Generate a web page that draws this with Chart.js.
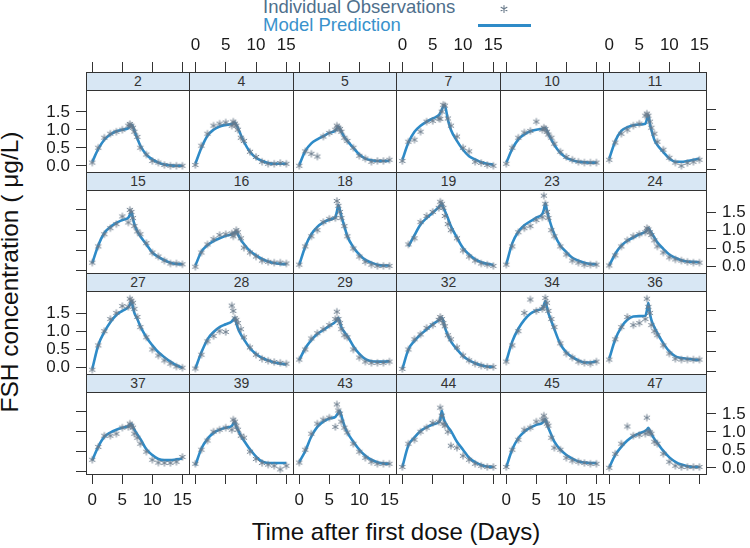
<!DOCTYPE html>
<html>
<head>
<meta charset="utf-8">
<script src="https://cdn.jsdelivr.net/npm/chart.js@4.4.1/dist/chart.umd.min.js"></script>
<style>
  body { margin: 0; background: #fff; }
  #wrap { position: relative; width: 750px; height: 548px; overflow: hidden; font-family: "Liberation Sans", Arial, sans-serif; }
  #wrap canvas { position: absolute; }
  .panel { position: absolute; box-sizing: border-box; border: 1px solid #333; }
  .strip { position: absolute; box-sizing: border-box; border: 1px solid #333; background: #d8e7f4;
           text-align: center; font-size: 14px; color: #333; }
  .txt { position: absolute; white-space: nowrap; }
</style>
</head>
<body>
<div id="wrap">
  <div class="txt" style="left:263px;top:-2px;font-size:18.5px;line-height:18.5px;color:#4e6f8c">Individual Observations</div>
  <div class="txt" style="left:263px;top:16px;font-size:18.5px;line-height:18.5px;color:#3a92cc">Model Prediction</div>
  <canvas id="legendMarks" width="80" height="34" style="left:470px;top:0px"></canvas>
  <div class="txt" style="left:196px;top:517px;width:400px;text-align:center;font-size:24px;line-height:30px;color:#111">Time after first dose (Days)</div>
  <div class="txt" style="left:-190px;top:257px;width:400px;text-align:center;font-size:24.5px;line-height:30px;color:#111;transform:rotate(-90deg)">FSH concentration ( μg/L)</div>
</div>
<script>
// observation / prediction times (days)
const T = [0, 1, 2, 3, 4, 5, 6, 6.25, 6.5, 6.75, 7, 7.5, 8, 9, 10, 11, 12, 13, 14, 15];
const X_TICKS = [0, 5, 10, 15];
const Y_TICKS = [0, 0.5, 1.0, 1.5];

// FSH (ug/L), one pair per subject
const pred2 = [0.2,0.52,0.75,0.88,0.96,1.0,1.04,1.08,1.12,1.08,0.98,0.78,0.6,0.38,0.26,0.18,0.13,0.11,0.1,0.1];
const obs2  = [0.18,0.55,0.8,0.9,0.95,1.0,1.1,1.14,1.1,1.05,0.95,0.82,0.55,0.38,0.22,0.18,0.12,0.1,0.1,0.1];
const pred4 = [0.15,0.55,0.85,1.0,1.08,1.12,1.14,1.16,1.18,1.12,1.05,0.87,0.7,0.45,0.3,0.22,0.17,0.15,0.15,0.15];
const obs4  = [0.12,0.6,0.9,1.1,1.15,1.18,1.1,1.2,1.15,1.1,1.0,0.8,0.72,0.45,0.32,0.2,0.15,0.15,0.17,0.15];
const pred5 = [0.12,0.47,0.66,0.76,0.84,0.92,0.98,1.03,1.08,1.02,0.95,0.82,0.72,0.55,0.38,0.28,0.24,0.22,0.22,0.22];
const obs5  = [0.1,0.46,0.4,0.33,0.83,0.92,1.0,1.1,1.05,1.02,0.95,0.8,0.72,0.55,0.35,0.28,0.2,0.22,0.22,0.25];
const pred7 = [0.25,0.68,0.95,1.1,1.2,1.28,1.36,1.42,1.5,1.58,1.6,1.25,1.0,0.72,0.5,0.34,0.26,0.19,0.15,0.13];
const obs7  = [0.22,0.7,0.75,0.95,1.2,1.22,1.28,1.27,1.45,1.62,1.6,1.28,1.1,0.83,0.55,0.46,0.2,0.17,0.12,0.1];
const pred10 = [0.18,0.52,0.76,0.88,0.96,1.0,1.02,1.03,1.04,0.98,0.9,0.75,0.62,0.42,0.3,0.24,0.2,0.19,0.18,0.18];
const obs10  = [0.15,0.55,0.8,0.93,0.97,1.2,1.0,1.05,1.02,0.95,0.88,0.8,0.65,0.45,0.32,0.25,0.2,0.18,0.18,0.18];
const pred11 = [0.28,0.72,0.97,1.06,1.11,1.13,1.15,1.25,1.36,1.15,1.0,0.75,0.62,0.44,0.28,0.2,0.2,0.22,0.25,0.28];
const obs11  = [0.25,0.68,0.9,1.0,1.1,1.15,1.35,1.4,1.35,1.2,1.05,0.9,0.7,0.5,0.3,0.18,0.1,0.17,0.2,0.25];
const pred15 = [0.19,0.63,0.93,1.08,1.18,1.25,1.31,1.38,1.46,1.3,1.15,0.97,0.85,0.65,0.45,0.34,0.26,0.2,0.17,0.16];
const obs15  = [0.2,0.6,0.9,1.05,1.15,1.34,1.19,1.5,1.45,1.3,1.1,0.97,0.9,0.68,0.45,0.35,0.25,0.18,0.18,0.16];
const pred16 = [0.13,0.47,0.63,0.73,0.8,0.86,0.9,0.92,0.94,0.96,0.9,0.76,0.66,0.49,0.38,0.29,0.23,0.19,0.17,0.16];
const obs16  = [0.1,0.45,0.65,0.78,0.88,0.9,0.92,0.85,0.92,1.0,0.95,0.8,0.57,0.45,0.35,0.25,0.22,0.2,0.2,0.18];
const pred18 = [0.15,0.6,0.9,1.08,1.19,1.26,1.32,1.45,1.62,1.5,1.35,1.1,0.85,0.58,0.4,0.27,0.2,0.15,0.13,0.13];
const obs18  = [0.15,0.6,0.85,1.0,1.2,1.28,1.3,1.72,1.6,1.45,1.3,1.1,0.85,0.55,0.35,0.22,0.15,0.12,0.12,0.12];
const pred19 = [null,0.6,0.88,1.14,1.3,1.43,1.57,1.61,1.66,1.55,1.48,1.3,1.1,0.82,0.56,0.4,0.28,0.21,0.17,0.15];
const obs19  = [null,0.65,0.8,1.2,1.35,1.45,1.55,1.7,1.65,1.55,1.35,1.15,1.0,0.8,0.5,0.35,0.25,0.18,0.15,0.12];
const pred23 = [0.16,0.68,0.96,1.12,1.22,1.31,1.4,1.5,1.66,1.5,1.35,1.1,0.9,0.62,0.46,0.32,0.25,0.2,0.17,0.16];
const obs23  = [0.15,0.6,0.95,1.05,1.1,1.25,1.32,1.85,1.65,1.45,1.3,1.0,0.85,0.6,0.4,0.25,0.2,0.15,0.15,0.15];
const pred24 = [0.13,0.42,0.62,0.74,0.82,0.9,0.96,1.0,1.05,1.0,0.94,0.82,0.7,0.54,0.4,0.32,0.26,0.23,0.22,0.21];
const obs24  = [0.13,0.38,0.6,0.75,0.85,0.9,0.95,1.05,1.02,0.95,0.88,0.75,0.6,0.45,0.33,0.28,0.25,0.22,0.2,0.2];
const pred27 = [0.07,0.66,0.98,1.22,1.4,1.5,1.59,1.65,1.74,1.6,1.45,1.3,1.12,0.85,0.65,0.48,0.36,0.25,0.16,0.1];
const obs27  = [0.05,0.65,1.0,1.3,1.45,1.62,1.6,1.8,1.75,1.7,1.55,1.35,1.1,0.85,0.55,0.4,0.28,0.2,0.13,0.1];
const pred28 = [0.08,0.48,0.8,0.98,1.1,1.17,1.24,1.28,1.33,1.2,1.08,0.92,0.8,0.58,0.44,0.34,0.28,0.23,0.2,0.18];
const obs28  = [0.08,0.42,0.75,0.88,1.0,0.98,1.63,1.5,1.32,1.28,1.2,1.05,0.85,0.6,0.42,0.32,0.27,0.24,0.22,0.2];
const pred29 = [0.29,0.58,0.78,0.93,1.03,1.13,1.23,1.28,1.33,1.22,1.1,0.98,0.88,0.63,0.44,0.31,0.26,0.25,0.25,0.26];
const obs29  = [0.3,0.55,0.82,0.95,1.05,1.15,1.3,1.48,1.3,1.2,1.05,0.9,0.85,0.55,0.35,0.25,0.22,0.22,0.22,0.25];
const pred32 = [0.07,0.55,0.76,0.92,1.04,1.17,1.27,1.3,1.33,1.25,1.1,0.9,0.75,0.55,0.39,0.28,0.21,0.16,0.13,0.12];
const obs32  = [0.07,0.55,0.8,0.92,1.08,1.15,1.28,1.35,1.3,1.2,1.12,0.9,0.8,0.6,0.4,0.28,0.2,0.15,0.12,0.12];
const pred34 = [0.26,0.75,1.06,1.28,1.43,1.51,1.57,1.64,1.74,1.6,1.45,1.25,1.05,0.68,0.48,0.36,0.28,0.23,0.23,0.26];
const obs34  = [0.25,0.65,1.0,1.45,1.78,1.5,1.55,1.6,1.82,1.7,1.5,1.3,1.1,0.7,0.45,0.35,0.25,0.22,0.2,0.25];
const pred36 = [0.33,0.8,1.1,1.28,1.36,1.37,1.38,1.5,1.7,1.45,1.28,1.1,0.95,0.7,0.5,0.38,0.34,0.32,0.3,0.29];
const obs36  = [0.3,0.8,1.1,1.35,1.15,1.2,1.3,1.8,1.6,1.45,1.15,1.0,0.9,0.65,0.45,0.32,0.3,0.3,0.3,0.3];
const pred37 = [0.29,0.63,0.87,0.98,1.05,1.1,1.14,1.17,1.2,1.12,1.05,0.93,0.82,0.56,0.42,0.32,0.29,0.29,0.31,0.33];
const obs37  = [0.3,0.62,0.9,0.9,0.95,1.1,1.12,1.2,1.15,1.1,0.95,0.85,0.7,0.5,0.3,0.23,0.22,0.22,0.25,0.37];
const pred39 = [0.16,0.58,0.82,0.97,1.05,1.1,1.14,1.2,1.25,1.12,1.05,0.9,0.78,0.56,0.38,0.26,0.22,0.22,0.22,0.22];
const obs39  = [0.2,0.55,0.78,1.0,1.05,1.1,1.05,1.3,1.25,1.15,1.05,0.9,0.85,0.5,0.32,0.22,0.18,0.15,0.06,0.15];
const pred43 = [0.25,0.52,0.88,1.12,1.25,1.33,1.37,1.42,1.47,1.52,1.4,1.15,0.98,0.75,0.55,0.4,0.3,0.24,0.21,0.2];
const obs43  = [0.23,0.55,0.95,1.2,1.3,1.35,1.12,1.68,1.53,1.45,1.25,1.1,0.98,0.7,0.5,0.35,0.25,0.2,0.2,0.2];
const pred44 = [0.12,0.66,0.86,1.02,1.11,1.18,1.24,1.3,1.52,1.35,1.25,1.12,1.02,0.75,0.55,0.35,0.24,0.17,0.13,0.12];
const obs44  = [0.12,0.7,0.8,1.0,1.1,1.22,1.25,1.6,1.4,1.2,1.15,1.0,0.65,0.6,0.4,0.3,0.2,0.15,0.12,0.12];
const pred45 = [0.12,0.56,0.84,1.0,1.1,1.17,1.22,1.26,1.31,1.2,1.1,0.92,0.75,0.55,0.42,0.33,0.26,0.23,0.22,0.22];
const obs45  = [0.12,0.55,0.8,1.05,1.1,1.25,1.3,1.4,1.3,1.2,1.15,0.85,0.6,0.55,0.35,0.28,0.25,0.22,0.2,0.2];
const pred47 = [0.11,0.42,0.62,0.78,0.89,0.96,1.02,1.05,1.1,1.02,0.95,0.82,0.72,0.52,0.36,0.25,0.18,0.14,0.12,0.12];
const obs47  = [0.1,0.45,0.7,1.13,0.9,0.92,0.95,1.35,1.0,0.98,0.95,0.75,0.7,0.45,0.25,0.15,0.12,0.12,0.12,0.12];

const panels = [
  ["2", pred2, obs2], ["4", pred4, obs4], ["5", pred5, obs5], ["7", pred7, obs7], ["10", pred10, obs10], ["11", pred11, obs11],
  ["15", pred15, obs15], ["16", pred16, obs16], ["18", pred18, obs18], ["19", pred19, obs19], ["23", pred23, obs23], ["24", pred24, obs24],
  ["27", pred27, obs27], ["28", pred28, obs28], ["29", pred29, obs29], ["32", pred32, obs32], ["34", pred34, obs34], ["36", pred36, obs36],
  ["37", pred37, obs37], ["39", pred39, obs39], ["43", pred43, obs43], ["44", pred44, obs44], ["45", pred45, obs45], ["47", pred47, obs47],
];

const FONT = '"Liberation Sans", Arial, sans-serif';
const LINE_COL = "#2e8bc8";
const OBS_COL = "#6a7b8b";
const XMIN = -1.05, XMAX = 16.1;
const YMIN = -0.055, YMAX = 1.99;

// panel grid (page px)
const COLS = [86, 189, 293, 396, 500, 603, 706];
const ROWS = [72, 172, 273, 374, 474];
const STRIP_H = 18;
const AXIS_H = 40, AXIS_W = 56, PAD = 12;

Chart.defaults.font.family = FONT;
const wrap = document.getElementById("wrap");

function asterisk(r, color, lw) {
  const s = Math.ceil(2 * r + 3);
  const c = document.createElement("canvas");
  c.width = c.height = s;
  const g = c.getContext("2d");
  g.strokeStyle = color; g.lineWidth = lw; g.lineCap = "round";
  g.beginPath();
  for (let k = 0; k < 3; k++) {
    const a = Math.PI / 2 + k * Math.PI / 3;
    g.moveTo(s / 2 + r * Math.cos(a), s / 2 + r * Math.sin(a));
    g.lineTo(s / 2 - r * Math.cos(a), s / 2 - r * Math.sin(a));
  }
  g.stroke();
  return c;
}
const STAR = asterisk(3.2, OBS_COL, 1.0);

function canvasAt(left, top, w, h) {
  const cv = document.createElement("canvas");
  cv.width = w; cv.height = h;
  cv.style.left = left + "px"; cv.style.top = top + "px";
  cv.style.width = w + "px"; cv.style.height = h + "px";
  wrap.appendChild(cv);
  return cv;
}

function box(cls, left, top, w, h, text) {
  const d = document.createElement("div");
  d.className = cls;
  d.style.cssText = `left:${left}px;top:${top}px;width:${w}px;height:${h}px;line-height:${h - 2}px`;
  if (text) d.textContent = text;
  wrap.appendChild(d);
}

const baseOpts = () => ({
  responsive: false, animation: false, events: [],
  devicePixelRatio: 1,
  plugins: { legend: { display: false }, tooltip: { enabled: false } },
});

// panels
panels.forEach(([id, pred, obs], i) => {
  const r = Math.floor(i / 6), c = i % 6;
  const x0 = COLS[c], x1 = COLS[c + 1], s0 = ROWS[r], y1 = ROWS[r + 1];
  box("panel", x0, s0, x1 - x0 + 1, y1 - s0 + 1);
  box("strip", x0, s0, x1 - x0 + 1, STRIP_H + 1, id);
  const cv = canvasAt(x0, s0 + STRIP_H, x1 - x0, y1 - s0 - STRIP_H);
  const predPts = T.map((t, k) => ({ x: t, y: pred[k] })).filter(p => p.y !== null);
  const obsPts = T.map((t, k) => ({ x: t, y: obs[k] })).filter(p => p.y !== null);
  new Chart(cv, {
    type: "line",
    data: {
      datasets: [
        { type: "scatter", data: obsPts, pointStyle: STAR, pointRadius: 4, showLine: false, order: 0 },
        { data: predPts, borderColor: LINE_COL, borderWidth: 2.6, pointRadius: 0,
          cubicInterpolationMode: "monotone", fill: false, order: 1 },
      ],
    },
    options: Object.assign(baseOpts(), {
      layout: { padding: 0, autoPadding: false },
      scales: {
        x: { type: "linear", min: XMIN, max: XMAX, display: false },
        y: { type: "linear", min: YMIN, max: YMAX, display: false },
      },
    }),
  });
});

// alternating lattice axes
function axisChart(pos, left, top, w, h, padding, showLabels) {
  const horiz = pos === "top" || pos === "bottom";
  const cv = canvasAt(left, top, w, h);
  const axis = {
    type: "linear", position: pos,
    min: horiz ? XMIN : YMIN, max: horiz ? XMAX : YMAX,
    afterBuildTicks: s => { s.ticks = (horiz ? X_TICKS : Y_TICKS).map(v => ({ value: v })); },
    afterFit: s => { if (horiz) s.height = AXIS_H; else s.width = AXIS_W; },
    grid: { drawOnChartArea: false, drawTicks: true, tickLength: 10, color: "#333", lineWidth: 1 },
    border: { display: false },
    ticks: {
      display: showLabels, autoSkip: false, maxRotation: 0, padding: 6,
      color: "#1a1a1a", font: { size: 17, family: FONT },
      callback: v => horiz ? String(v) : v.toFixed(1),
    },
  };
  const other = { type: "linear", display: false, min: 0, max: 1 };
  new Chart(cv, {
    type: "line",
    data: { datasets: [] },
    options: Object.assign(baseOpts(), {
      layout: { padding, autoPadding: false },
      scales: horiz ? { x: axis, y: other } : { x: other, y: axis },
    }),
  });
}

for (let c = 0; c < 6; c++) {
  const x0 = COLS[c], w = COLS[c + 1] - x0;
  axisChart("top", x0 - PAD, ROWS[0] - AXIS_H, w + 2 * PAD, AXIS_H + 1,
    { left: PAD, right: PAD, top: 0, bottom: 0 }, c % 2 === 1);
  axisChart("bottom", x0 - PAD, ROWS[4] - 1, w + 2 * PAD, AXIS_H + 1,
    { left: PAD, right: PAD, top: 0, bottom: 0 }, c % 2 === 0);
}
for (let r = 0; r < 4; r++) {
  const top = ROWS[r] + STRIP_H, h = ROWS[r + 1] - top;
  axisChart("left", COLS[0] - AXIS_W, top - PAD, AXIS_W + 1, h + 2 * PAD,
    { left: 0, right: 0, top: PAD, bottom: PAD }, r % 2 === 0);
  axisChart("right", COLS[6] - 1, top - PAD, AXIS_W + 1, h + 2 * PAD,
    { left: 0, right: 0, top: PAD, bottom: PAD }, r % 2 === 1);
}

// legend keys
const lg = document.getElementById("legendMarks").getContext("2d");
lg.drawImage(asterisk(3.4, OBS_COL, 1.1), 34 - 5, 9 - 5);
lg.strokeStyle = LINE_COL; lg.lineWidth = 3;
lg.beginPath(); lg.moveTo(8, 25.5); lg.lineTo(61, 25.5); lg.stroke();
</script>
</body>
</html>
